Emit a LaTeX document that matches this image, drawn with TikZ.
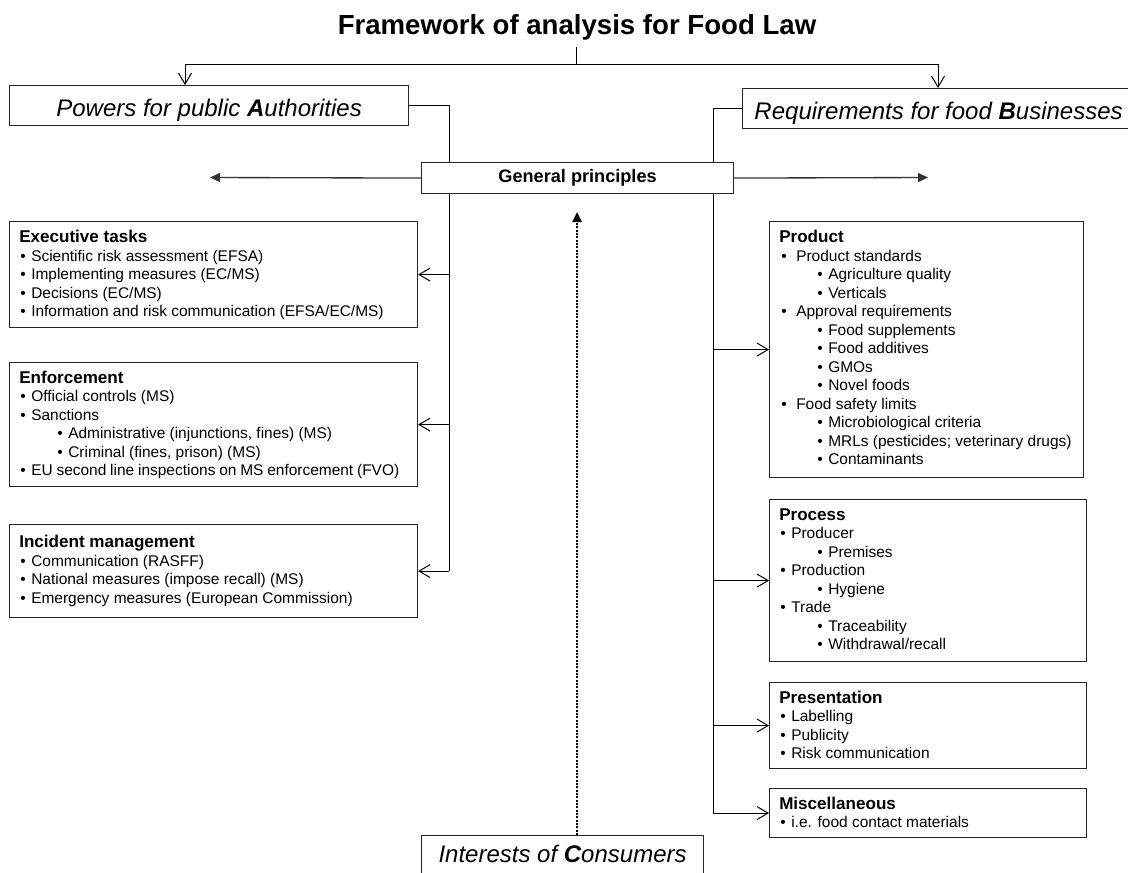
\documentclass[tikz,border=0pt]{standalone}
\usepackage{fontspec}
\setmainfont{Liberation Sans}
\usetikzlibrary{arrows.meta,calc}
\newdimen\px \px=0.75pt
\newcommand{\hd}[1]{{\fontsize{12.8pt}{13.875pt}\selectfont\bfseries #1}}
\newcommand{\bx}[3]{\par\noindent\hspace*{#1\px}\rlap{•}\hspace*{\dimexpr #2\px-#1\px\relax}#3}
\newcommand{\boxtext}[1]{\vtop{\hsize=380\px\parindent=0pt\fontsize{11.6pt}{13.875pt}\selectfont\baselineskip=13.875pt #1}}
\begin{document}
\begin{tikzpicture}[x=0.75pt,y=-0.75pt,
  boxs/.style={draw=black!85, line width=0.85pt, fill=white, anchor=north west, inner sep=0pt},
  big/.style={font=\fontsize{18pt}{20pt}\selectfont\itshape},
  txt/.style={anchor=base west, inner sep=0pt},
  ln/.style={line width=0.75pt, draw=black},
  barb/.style={ln, -{Straight Barb[length=8.25pt,width=9.75pt]}},
  tri/.style={line width=1pt, draw=black!80, -{Triangle[length=7.5pt,width=6.75pt]}},
  dots/.style={line width=1.8pt, dash pattern=on 1.5pt off 1pt, -{Triangle[length=7.5pt,width=6.75pt]}}]
\useasboundingbox (0,0) rectangle (1128,872);
\clip (0,0) rectangle (1128,872);

% title
\node[inner sep=0pt] (title) at (577,27) {\fontsize{20.7pt}{24pt}\selectfont\bfseries Framework of analysis for Food Law};

% main boxes
\node[boxs, big, minimum width=299.25pt, minimum height=30pt, text height=16.5pt, text depth=0.3pt] (pa) at (9,85)
  {Powers for public \textbf{A}uthorities};
\node[boxs, big, minimum width=294pt, minimum height=30pt, text height=16.5pt, text depth=0.3pt] (rb) at (742,88)
  {Requirements for food \textbf{B}usinesses};
\node[boxs, big, minimum width=211.5pt, minimum height=34.5pt, text height=8pt, text depth=2.8pt] (ic) at (421,835)
  {Interests of \textbf{C}onsumers};

% left boxes
\node[boxs, minimum width=306pt, minimum height=79.5pt] (exe) at (9,221) {};
\node[txt] (exet) at ($(exe.north west)+(10,21.5)$) {\boxtext{\hd{Executive tasks}
  \bx{1}{12}{Scientific risk assessment (EFSA)}
  \bx{1}{12}{Implementing measures (EC/MS)}
  \bx{1}{12}{Decisions (EC/MS)}
  \bx{1}{12}{Information and risk communication (EFSA/EC/MS)}}};

\node[boxs, minimum width=306pt, minimum height=93pt] (enf) at (9,362) {};
\node[txt] (enft) at ($(enf.north west)+(10,21)$) {\boxtext{\hd{Enforcement}
  \bx{1}{12}{Official controls (MS)}
  \bx{1}{12}{Sanctions}
  \bx{38}{49}{Administrative (injunctions, fines) (MS)}
  \bx{38}{49}{Criminal (fines, prison) (MS)}
  \bx{1}{12}{EU second line inspections on MS enforcement (FVO)}}};

\node[boxs, minimum width=306pt, minimum height=69.75pt] (inc) at (9,524) {};
\node[txt] (inct) at ($(inc.north west)+(10,23.5)$) {\boxtext{\hd{Incident management}
  \bx{1}{12}{Communication (RASFF)}
  \bx{1}{12}{National measures (impose recall) (MS)}
  \bx{1}{12}{Emergency measures (European Commission)}}};

% right boxes
\node[boxs, minimum width=235.5pt, minimum height=192pt] (prod) at (769,221) {};
\node[txt] (prodt) at ($(prod.north west)+(10,21.5)$) {\boxtext{\hd{Product}
  \bx{2}{17}{Product standards}
  \bx{38}{49}{Agriculture quality}
  \bx{38}{49}{Verticals}
  \bx{2}{17}{Approval requirements}
  \bx{38}{49}{Food supplements}
  \bx{38}{49}{Food additives}
  \bx{38}{49}{GMOs}
  \bx{38}{49}{Novel foods}
  \bx{2}{17}{Food safety limits}
  \bx{38}{49}{Microbiological criteria}
  \bx{38}{49}{MRLs (pesticides; veterinary drugs)}
  \bx{38}{49}{Contaminants}}};

\node[boxs, minimum width=237.75pt, minimum height=121.5pt] (proc) at (769,499) {};
\node[txt] (proct) at ($(proc.north west)+(10,21)$) {\boxtext{\hd{Process}
  \bx{1}{12}{Producer}
  \bx{38}{49}{Premises}
  \bx{1}{12}{Production}
  \bx{38}{49}{Hygiene}
  \bx{1}{12}{Trade}
  \bx{38}{49}{Traceability}
  \bx{38}{49}{Withdrawal/recall}}};

\node[boxs, minimum width=237.75pt, minimum height=64.5pt] (pres) at (769,682) {};
\node[txt] (prest) at ($(pres.north west)+(10,21)$) {\boxtext{\hd{Presentation}
  \bx{1}{12}{Labelling}
  \bx{1}{12}{Publicity}
  \bx{1}{12}{Risk communication}}};

\node[boxs, minimum width=237.75pt, minimum height=36.75pt] (misc) at (769,788) {};
\node[txt] (misct) at ($(misc.north west)+(10,21)$) {\boxtext{\hd{Miscellaneous}
  \bx{1}{12}{i.e. food contact materials}}};

% top connectors
\coordinate (tt) at (576,47);
\coordinate (tl) at (185,64);
\coordinate (tr) at (938,64);
\draw[barb] (tt) |- (tl) -- (tl |- pa.north);
\draw[barb] (tt) |- (tr) -- (tr |- rb.north);

% trunks
\coordinate (lb) at (449,570.5);
\coordinate (rbt) at (713,812.5);
\draw[ln] (pa.east) -| (lb);
\draw[ln] (rb.west) -| (rbt);
\draw[barb] (lb |- exe.east) -- (exe.east);
\draw[barb] (lb |- enf.east) -- (enf.east);
\draw[barb] (lb |- inc.east) -- (inc.east);
\draw[barb] (rbt |- prod.west) -- (prod.west);
\draw[barb] (rbt |- proc.west) -- (proc.west);
\draw[barb] (rbt |- pres.west) -- (pres.west);
\draw[barb] (rbt |- misc.west) -- (misc.west);

% general principles
\node[boxs, minimum width=234pt, minimum height=23.25pt] (gp) at (421,162)
  {\fontsize{13.6pt}{15pt}\selectfont\bfseries General principles};
\coordinate (gl) at (210,177.5);
\coordinate (gr) at (928,177.5);
\draw[tri] (gp.west) -- (gl);
\draw[tri] (gp.east) -- (gr);

% consumers dotted arrow
\coordinate (dt) at (577,212);
\draw[dots] (ic.north -| dt) -- (dt);
\end{tikzpicture}
\end{document}
